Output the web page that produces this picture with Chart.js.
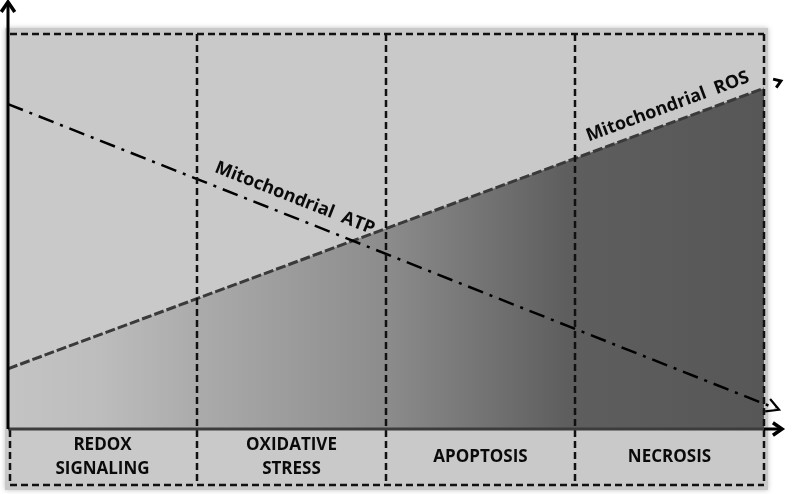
<!DOCTYPE html>
<html>
<head>
<meta charset="utf-8">
<script src="https://cdn.jsdelivr.net/npm/chart.js@4/dist/chart.umd.min.js"></script>
<style>
  html, body { margin: 0; padding: 0; background: #fff; }
  #wrap { width: 792px; height: 494px; }
</style>
</head>
<body>
<div id="wrap"><canvas id="c" width="792" height="494"></canvas></div>
<script>
// stages along the x axis (one column each)
const stages = [['REDOX', 'SIGNALING'], ['OXIDATIVE', 'STRESS'], ['APOPTOSIS'], ['NECROSIS']];
const stageEdges = [0, 1, 2, 3, 4];

// conceptual levels (0-100) at the start and end of the time axis
const rosX = [0, 4];
const rosY = [15, 86];
const atpX = [0, 4.06];
const atpY = [82, 5];

const rosLabel = 'Mitochondrial  ROS';
const atpLabel = 'Mitochondrial  ATP';

const FONT = '"Open Sans", "Noto Sans", sans-serif';

function pts(xs, ys) { return xs.map((x, i) => ({ x, y: ys[i] })); }

function dashLine(ctx, x1, y1, x2, y2) {
    ctx.beginPath(); ctx.moveTo(x1, y1); ctx.lineTo(x2, y2); ctx.stroke();
}

function arrowHead(ctx, x, y, ang, len, spread) {
    ctx.beginPath();
    ctx.moveTo(x - len * Math.cos(ang - spread), y - len * Math.sin(ang - spread));
    ctx.lineTo(x, y);
    ctx.lineTo(x - len * Math.cos(ang + spread), y - len * Math.sin(ang + spread));
    ctx.stroke();
}

const panelPlugin = {
    id: 'panel',
    beforeDraw(chart) {
        const { ctx, chartArea: a } = chart;
        const top = a.top, bottom = a.bottom, boxBottom = bottom + 58;
        ctx.save();
        // panel background with a soft shadow
        ctx.shadowColor = 'rgba(0,0,0,0.25)';
        ctx.shadowBlur = 5;
        ctx.fillStyle = '#c9c9c9';
        ctx.fillRect(a.left - 3, top - 5, a.right - a.left + 7, boxBottom - top + 9);
        ctx.restore();
    },
    afterDatasetsDraw(chart) {
        const { ctx, chartArea: a, scales: { x } } = chart;
        const top = a.top + 1, bottom = a.bottom, boxBottom = bottom + 57;
        ctx.save();
        // dashed frames
        ctx.strokeStyle = '#111';
        ctx.lineWidth = 2.5;
        ctx.setLineDash([7, 4]);
        dashLine(ctx, a.left + 2, top, a.right, top);
        dashLine(ctx, a.left + 2, boxBottom, a.right, boxBottom);
        dashLine(ctx, a.left + 2, bottom + 2, a.left + 2, boxBottom);
        stageEdges.slice(1).forEach(v => {
            const px = Math.round(x.getPixelForValue(v));
            dashLine(ctx, px, top, px, boxBottom);
        });
        ctx.setLineDash([]);

        // stage labels
        ctx.fillStyle = '#0a0a0a';
        ctx.font = 'bold 17px ' + FONT;
        ctx.textAlign = 'center';
        ctx.textBaseline = 'middle';
        const mid = (bottom + boxBottom) / 2 + 1;
        stages.forEach((lines, i) => {
            const cx = (x.getPixelForValue(stageEdges[i]) + x.getPixelForValue(stageEdges[i + 1])) / 2;
            lines.forEach((t, j) => {
                ctx.fillText(t, cx, mid + (j - (lines.length - 1) / 2) * 24);
            });
        });

        // axes with arrows
        ctx.strokeStyle = '#3c3c3c';
        ctx.lineWidth = 3;
        dashLine(ctx, a.left, bottom + 1, a.right, bottom + 1);
        ctx.strokeStyle = '#000';
        dashLine(ctx, a.right, bottom + 1, a.right + 18, bottom + 1);
        ctx.lineWidth = 3.5;
        arrowHead(ctx, a.right + 18, bottom + 1, 0, 11, 0.6);
        ctx.lineWidth = 3;
        dashLine(ctx, a.left, bottom + 1, a.left, 3);
        ctx.lineWidth = 3.5;
        arrowHead(ctx, a.left, 2, -Math.PI / 2, 12, 0.6);

        // line arrowheads and labels
        const ros = chart.getDatasetMeta(0).data;
        const atp = chart.getDatasetMeta(1).data;
        const rAng = Math.atan2(ros[1].y - ros[0].y, ros[1].x - ros[0].x);
        const aAng = Math.atan2(atp[1].y - atp[0].y, atp[1].x - atp[0].x);

        ctx.lineWidth = 3;
        arrowHead(ctx, ros[1].x + 18 * Math.cos(rAng), ros[1].y + 18 * Math.sin(rAng) - 1, rAng, 8, 0.6);
        ctx.lineWidth = 2.2;
        arrowHead(ctx, atp[1].x + 4 * Math.cos(aAng), atp[1].y + 4 * Math.sin(aAng), aAng, 14, 0.5);

        ctx.fillStyle = '#0a0a0a';
        ctx.font = 'bold 18px ' + FONT;
        ctx.textAlign = 'center';
        ctx.textBaseline = 'alphabetic';
        const label = (meta, ang, t, frac, off) => {
            const px = meta[0].x + (meta[1].x - meta[0].x) * frac;
            const py = meta[0].y + (meta[1].y - meta[0].y) * frac;
            ctx.save();
            ctx.translate(px, py);
            ctx.rotate(ang);
            ctx.fillText(t, 0, -off);
            ctx.restore();
        };
        label(atp, aAng, atpLabel, 0.365, 13);
        label(ros, rAng, rosLabel, 0.88, 11);
        ctx.restore();
    }
};

new Chart(document.getElementById('c'), {
    type: 'line',
    data: {
        datasets: [
            {
                label: 'Mitochondrial ROS',
                data: pts(rosX, rosY),
                order: 1,
                borderColor: '#3a3a3a',
                borderWidth: 3,
                borderDash: [10, 3],
                pointRadius: 0,
                fill: 'origin',
                backgroundColor: (c) => {
                    const a = c.chart.chartArea;
                    if (!a) return '#999';
                    const g = c.chart.ctx.createLinearGradient(a.left, 0, a.right, 0);
                    g.addColorStop(0, '#c4c4c4');
                    g.addColorStop(0.12, '#bdbdbd');
                    g.addColorStop(0.25, '#ababab');
                    g.addColorStop(0.5, '#8c8c8c');
                    g.addColorStop(0.74, '#5e5e5e');
                    g.addColorStop(1, '#575757');
                    return g;
                },
            },
            {
                label: 'Mitochondrial ATP',
                data: pts(atpX, atpY),
                order: 0,
                borderColor: '#000',
                borderWidth: 2.5,
                borderDash: [16, 7, 3, 7],
                pointRadius: 0,
                fill: false,
                clip: false,
            },
        ],
    },
    options: {
        responsive: false,
        animation: false,
        layout: { padding: { left: 8, right: 28, top: 33, bottom: 66 } },
        plugins: { legend: { display: false }, tooltip: { enabled: false } },
        scales: {
            x: { type: 'linear', min: 0, max: 4, display: false },
            y: { min: 0, max: 100, display: false },
        },
    },
    plugins: [panelPlugin],
});
</script>
</body>
</html>
